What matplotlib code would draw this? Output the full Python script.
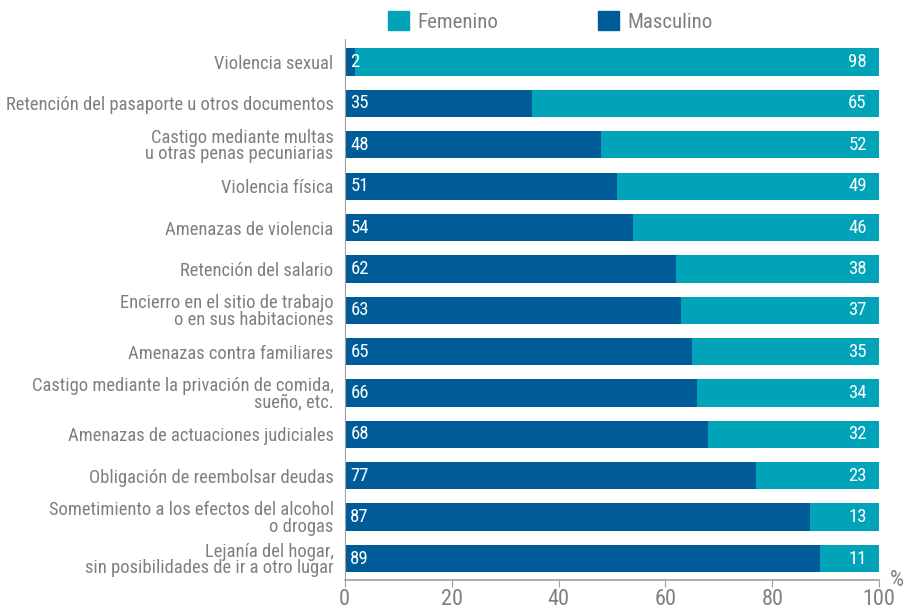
import matplotlib
matplotlib.use("Agg")
import matplotlib.pyplot as plt
from matplotlib.patches import Patch

plt.rcParams['font.family'] = ['Roboto Condensed', 'Roboto', 'DejaVu Sans']

categorias = [
    "Violencia sexual",
    "Retención del pasaporte u otros documentos",
    "Castigo mediante multas\nu otras penas pecuniarias",
    "Violencia física",
    "Amenazas de violencia",
    "Retención del salario",
    "Encierro en el sitio de trabajo\no en sus habitaciones",
    "Amenazas contra familiares",
    "Castigo mediante la privación de comida,\nsueño, etc.",
    "Amenazas de actuaciones judiciales",
    "Obligación de reembolsar deudas",
    "Sometimiento a los efectos del alcohol\no drogas",
    "Lejanía del hogar,\nsin posibilidades de ir a otro lugar",
]
masculino = [2, 35, 48, 51, 54, 62, 63, 65, 66, 68, 77, 87, 89]
femenino = [98, 65, 52, 49, 46, 38, 37, 35, 34, 32, 23, 13, 11]

c_fem = "#00a3b7"
c_mas = "#005b99"
gris = "#7f7f7f"

fig = plt.figure(figsize=(9.12, 6.11), dpi=100)
ax = fig.add_axes([0.378, 0.0507, 0.586, 0.885])

pos = list(range(len(categorias)))
ax.barh(pos, masculino, height=0.66, color=c_mas)
ax.barh(pos, femenino, left=masculino, height=0.66, color=c_fem)

for i in pos:
    ax.annotate(str(masculino[i]), (0, i), xytext=(4, 0), textcoords="offset points",
                ha="left", va="center", color="white", fontsize=13.5)
    ax.annotate(str(femenino[i]), (100, i), xytext=(-9, 0), textcoords="offset points",
                ha="right", va="center", color="white", fontsize=13.5)

ax.set_xlim(0, 100)
ax.set_ylim(len(categorias) - 1 + 0.52, -0.55)
ax.set_yticks(pos)
ax.set_yticklabels(categorias, fontsize=13.3, color=gris, linespacing=0.9)
ax.tick_params(axis="y", length=0, pad=8)
ax.set_xticks([0, 20, 40, 60, 80, 100])
ax.tick_params(axis="x", direction="out", length=5, color="#a0a0a0", labelsize=16,
               labelcolor=gris, pad=1.5)

for s in ["top", "right"]:
    ax.spines[s].set_visible(False)
ax.spines["left"].set_color("#a0a0a0")
ax.spines["bottom"].set_color("#a0a0a0")
ax.spines["bottom"].set_linewidth(1.2)

ax.annotate("%", (100, len(categorias) - 1 + 0.52), xytext=(8, 0), textcoords="offset points",
            ha="left", va="center", color=gris, fontsize=16, annotation_clip=False)

handles = [Patch(color=c_fem, label="Femenino"), Patch(color=c_mas, label="Masculino")]
fig.legend(handles=handles, loc="upper left", bbox_to_anchor=(0.405, 1.012), ncol=2,
           frameon=False, fontsize=15, labelcolor=gris, handlelength=1.0, handleheight=1.0,
           handletextpad=0.4, columnspacing=4.8)

fig.savefig("out.png", dpi=100)
